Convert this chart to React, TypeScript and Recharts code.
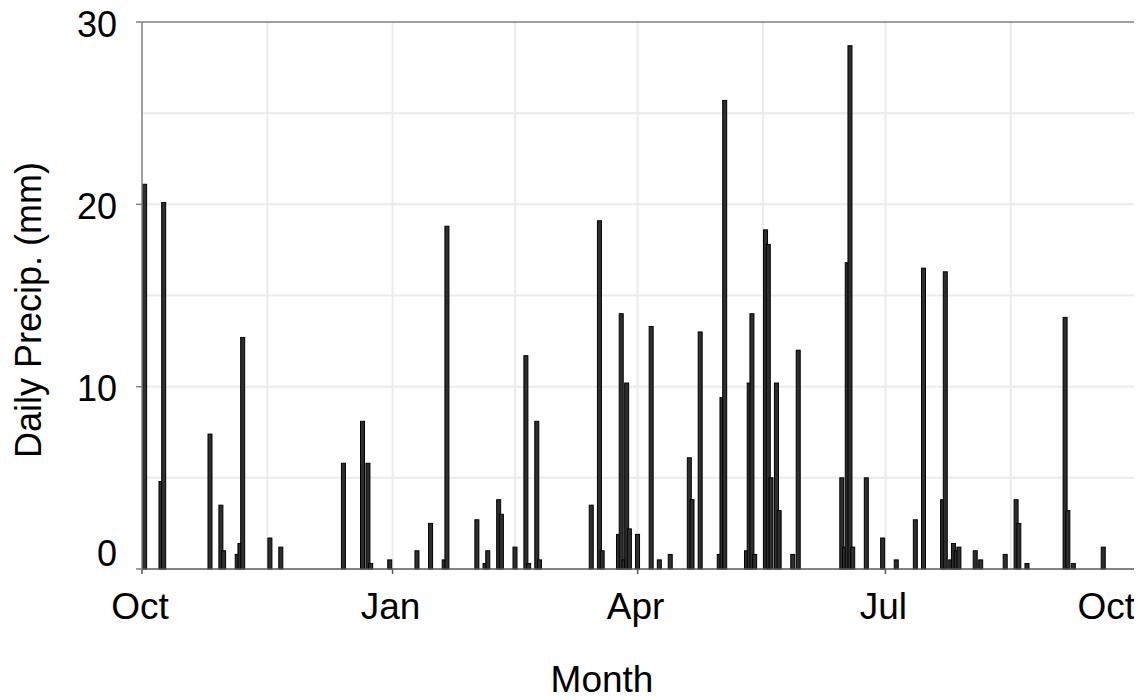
import React from 'react';
import { BarChart, Bar, XAxis, YAxis, CartesianGrid, ReferenceLine } from 'recharts';

// Day index counted from 1 October (0) to 1 October of the next year (365)
const days = [
  1, 7, 8, 25, 29, 30, 35, 36, 37, 47, 51,
  74, 81, 83, 84, 91, 101, 106, 111, 112, 123, 126, 127, 131, 132, 137, 141, 142, 145, 146,
  165, 168, 169, 175, 176, 177, 178, 179, 182, 187, 190, 194, 201, 202, 205, 212, 213, 214,
  222, 223, 224, 225, 229, 230, 231, 233, 234, 239, 241, 257, 258, 259, 260, 261, 266, 272,
  277, 284, 287, 294, 295, 297, 298, 299, 300, 306, 308, 317, 321, 322, 325, 339, 340, 342, 353,
];

const precip = [
  21.1, 4.8, 20.1, 7.4, 3.5, 1.0, 0.8, 1.4, 12.7, 1.7, 1.2,
  5.8, 8.1, 5.8, 0.3, 0.5, 1.0, 2.5, 0.5, 18.8, 2.7, 0.3, 1.0, 3.8, 3.0, 1.2, 11.7, 0.3, 8.1, 0.5,
  3.5, 19.1, 1.0, 1.9, 14.0, 0.5, 10.2, 2.2, 1.9, 13.3, 0.5, 0.8, 6.1, 3.8, 13.0, 0.8, 9.4, 25.7,
  1.0, 10.2, 14.0, 0.8, 18.6, 17.8, 5.0, 10.2, 3.2, 0.8, 12.0, 5.0, 1.2, 16.8, 28.7, 1.2, 5.0, 1.7,
  0.5, 2.7, 16.5, 3.8, 16.3, 0.5, 1.4, 1.0, 1.2, 1.0, 0.5, 0.8, 3.8, 2.5, 0.3, 13.8, 3.2, 0.3, 1.2,
];

const monthTicks = [0, 92, 182, 273, 365];
const monthLabels = ['Oct', 'Jan', 'Apr', 'Jul', 'Oct'];
const gridDays = [46, 92, 137, 182, 228, 273, 319];
const precipTicks = [0, 10, 20, 30];
const gridPrecip = [5, 10, 15, 20, 25];

const data = days.map((d, i) => ({ day: d, precip: precip[i] }));

const FONT = '"Liberation Sans", Arial, Helvetica, sans-serif';
const FS = 36;

const XTick = (props: any) => {
  const { x, y, payload } = props;
  const i = monthTicks.indexOf(payload.value);
  const last = i === monthTicks.length - 1;
  return (
    <text
      x={last ? x - 1 : x - 2}
      y={y}
      dy="0.71em"
      textAnchor={last ? 'end' : 'middle'}
      fontSize={37}
      fontFamily={FONT}
      fill="#000"
    >
      {monthLabels[i]}
    </text>
  );
};

const YTick = (props: any) => {
  const { x, y, payload } = props;
  const shift = payload.value === 0 ? -16 : 2;
  return (
    <text x={x} y={y + shift} dy="0.355em" textAnchor="end" fontSize={FS} fontFamily={FONT} fill="#000">
      {payload.value}
    </text>
  );
};

const BarShape = (props: any) => {
  const { x, y, width, height } = props;
  if (height == null || !(height > 0)) return null;
  const cx = x + width / 2;
  return <rect x={cx - 2} y={y} width={4} height={height} fill="#2e2e2e" stroke="#000" strokeWidth={1} />;
};

const XTitle = (props: any) => {
  const vb = props.viewBox;
  return (
    <text x={vb.x + vb.width / 2 - 37} y={vb.y + 123} textAnchor="middle" fontSize={37} fontFamily={FONT} fill="#000">
      Month
    </text>
  );
};

const YTitle = (props: any) => {
  const vb = props.viewBox;
  const x = vb.x + 41;
  const y = vb.y + vb.height / 2 + 14.5;
  return (
    <text x={x} y={y} transform={`rotate(-90, ${x}, ${y})`} textAnchor="middle" fontSize={FS} fontFamily={FONT} fill="#000">
      Daily Precip. (mm)
    </text>
  );
};

export default function App() {
  return (
    <div style={{ width: 1142, height: 700, background: '#fff', margin: '-8px 0 0 -8px' }}>
      <BarChart
        width={1142}
        height={700}
        data={data}
        margin={{ top: 22, right: 6, bottom: 71, left: 0 }}
      >
        <CartesianGrid
          stroke="#ebebeb"
          strokeWidth={2}
          horizontalValues={gridPrecip}
          verticalValues={gridDays}
        />
        <XAxis
          dataKey="day"
          type="number"
          domain={[0, 365]}
          ticks={monthTicks}
          interval={0}
          allowDataOverflow
          height={60}
          tickSize={5}
          tickMargin={19}
          stroke="#595959"
          strokeWidth={1.5}
          tickLine={{ stroke: '#595959' }}
          tick={<XTick />}
          label={XTitle}
        />
        <YAxis
          type="number"
          domain={[0, 30]}
          ticks={precipTicks}
          interval={0}
          width={142}
          tickSize={6}
          tickMargin={19}
          stroke="#808080"
          strokeWidth={1.5}
          tickLine={{ stroke: '#808080' }}
          tick={<YTick />}
          label={YTitle}
        />
        <ReferenceLine y={30} stroke="#808080" strokeWidth={1.5} />
        <ReferenceLine x={365} stroke="#808080" strokeWidth={1.5} />
        <Bar dataKey="precip" isAnimationActive={false} shape={<BarShape />} />
      </BarChart>
    </div>
  );
}
